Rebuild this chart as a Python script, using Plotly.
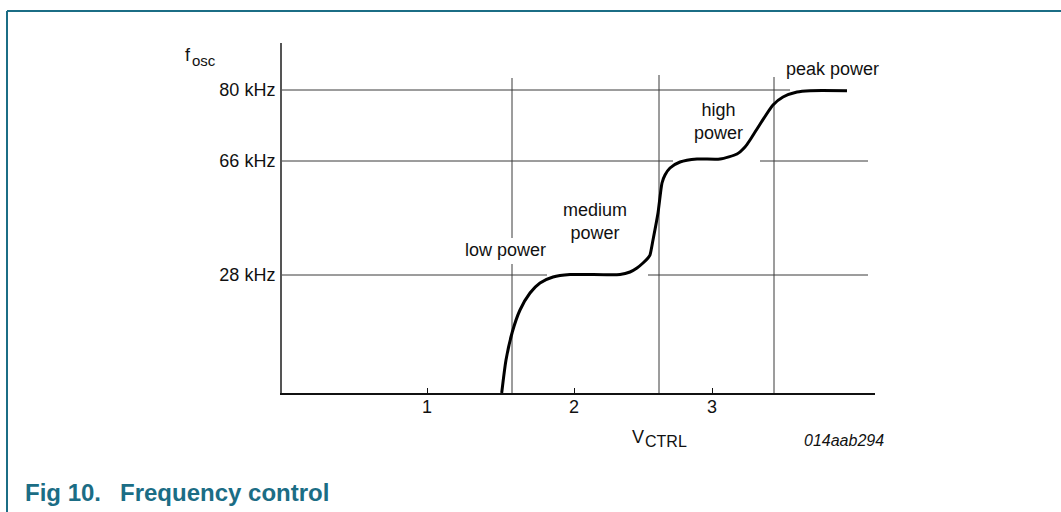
import plotly.graph_objects as go

# Schematic coordinates (x: along V_CTRL axis, y: along f_osc axis)
x_tick_vals = [145, 292, 430]
x_tick_text = ["1", "2", "3"]
y_tick_vals = [118, 232, 303]
y_tick_text = ["28 kHz", "66 kHz", "80 kHz"]

curve_x = [219.7, 224, 230.3, 238, 248, 258, 271, 288, 338, 348, 355, 361, 366, 368, 371,
           376, 380, 383, 388, 398, 415, 438, 455, 463, 468, 475, 491, 501, 515, 528, 565]
curve_y = [0, 33, 61, 83, 100, 110, 116, 118.5, 118.5, 121, 125, 130, 135, 138, 153,
           180, 210, 218, 225, 231, 234, 234, 239, 246, 253, 264, 288, 296, 301, 302.3, 302.3]

# guide line segments: (level, start, end)
h_guides = [(303, 0, 508), (232, 0, 391), (232, 478, 586), (118, 0, 265), (118, 366, 586)]
v_guides = [(230, 155, 315), (230, 0, 129), (377, 0, 318), (492, 0, 316)]

region_labels = ["low power", "medium<br>power", "high<br>power", "peak power"]
region_x = [223, 313, 436, 550]
region_y = [143, 171.5, 272, 324]

X_RANGE = [0, 593]
Y_RANGE = [0, 350]

# plot-area pixel geometry on the page (used to place outside texts in paper units)
PX0, PX1, PY0, PY1 = 282, 875, 393, 43


def px(xp):
    return (xp - PX0) / (PX1 - PX0)


def py(yp):
    return (PY0 - yp) / (PY0 - PY1)


fig = go.Figure()

for lvl, a, b in h_guides:
    fig.add_trace(go.Scatter(x=[a, b], y=[lvl, lvl], mode="lines",
                             line=dict(color="#3a3a3a", width=1), hoverinfo="skip",
                             showlegend=False))
for xv, a, b in v_guides:
    fig.add_trace(go.Scatter(x=[xv, xv], y=[a, b], mode="lines",
                             line=dict(color="#3a3a3a", width=1), hoverinfo="skip",
                             showlegend=False))

fig.add_trace(go.Scatter(x=curve_x, y=curve_y, mode="lines",
                         line=dict(color="black", width=3, shape="spline", smoothing=0.6),
                         showlegend=False))

FONT = "Liberation Sans, Arial, sans-serif"
INK = "#111"
TEAL = "#1b6d85"

for t, xv, yv in zip(region_labels, region_x, region_y):
    fig.add_annotation(x=xv, y=yv, text=t, showarrow=False, xref="x", yref="y",
                       font=dict(family=FONT, size=18, color=INK),
                       xanchor="center", yanchor="middle")


def note(xp, yp, text, size, xanchor="left", color=INK):
    fig.add_annotation(x=px(xp), y=py(yp), xref="paper", yref="paper", text=text,
                       showarrow=False, font=dict(family=FONT, size=size, color=color),
                       xanchor=xanchor, yanchor="middle", borderpad=0)


# axis titles
note(184, 55, "f", 18)
note(191, 60, "osc", 15)
note(631, 437, "V", 18)
note(644, 441, "CTRL", 16)
note(844, 440, "<i>014aab294</i>", 16, xanchor="center")

# caption
note(24, 492, "<b>Fig 10.</b>", 24, color=TEAL)
note(119, 492, "<b>Frequency control</b>", 24, color=TEAL)

# outer frame (top and left rules)
fig.add_shape(type="line", xref="paper", yref="paper", x0=px(7), x1=px(1061), y0=py(11), y1=py(11),
              line=dict(color=TEAL, width=2))
fig.add_shape(type="line", xref="paper", yref="paper", x0=px(7), x1=px(7), y0=py(11), y1=py(512),
              line=dict(color=TEAL, width=2))

fig.update_layout(
    width=1061, height=512,
    margin=dict(l=282, r=186, t=43, b=119),
    paper_bgcolor="white", plot_bgcolor="white",
    xaxis=dict(range=X_RANGE, tickvals=x_tick_vals, ticktext=x_tick_text,
               showgrid=False, zeroline=False, showline=True, linecolor=INK, linewidth=1.5,
               ticks="inside", ticklen=5, tickcolor=INK, tickwidth=1, ticklabelstandoff=-3,
               tickfont=dict(family=FONT, size=18, color=INK), fixedrange=True),
    yaxis=dict(range=Y_RANGE, tickvals=y_tick_vals, ticktext=y_tick_text,
               showgrid=False, zeroline=False, showline=True, linecolor="#555", linewidth=2,
               ticks="", ticklabelstandoff=1,
               tickfont=dict(family=FONT, size=18, color=INK), fixedrange=True),
    showlegend=False,
)

fig.write_html("out.html", config={"displayModeBar": False},
               post_script="document.body.style.margin='0';document.body.style.overflow='hidden';")
